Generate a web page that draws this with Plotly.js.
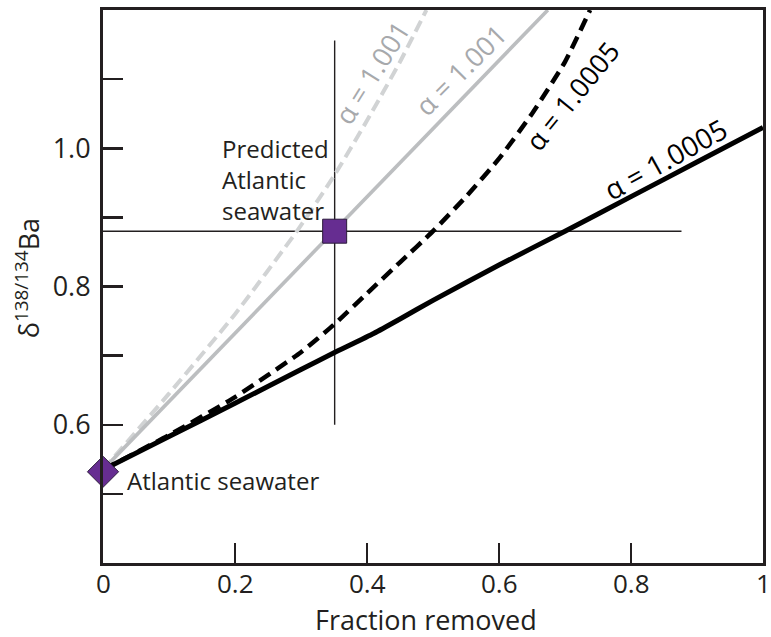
<!DOCTYPE html>
<html>
<head>
<meta charset="utf-8">
<script src="https://cdn.plot.ly/plotly-3.0.1.min.js"></script>
<style>html,body{margin:0;padding:0;background:#fff;}</style>
</head>
<body>
<div id="chart" style="width:771px;height:637px;"></div>
<script>
// Fraction removed (x) vs δ138/134Ba (y)
const blackSolidX = [0, 0.1, 0.2, 0.3, 0.35, 0.41, 0.45, 0.5, 0.6, 0.7, 0.8, 0.9, 1.0];
const blackSolidY = [0.535, 0.583, 0.631, 0.680, 0.704, 0.732, 0.753, 0.780, 0.831, 0.880, 0.930, 0.980, 1.030];

const blackDashX = [0, 0.1, 0.2, 0.3, 0.35, 0.4, 0.45, 0.5, 0.55, 0.6, 0.65, 0.7, 0.738];
const blackDashY = [0.535, 0.585, 0.640, 0.705, 0.745, 0.790, 0.835, 0.880, 0.930, 0.985, 1.050, 1.125, 1.200];

const graySolidX = [0, 0.2, 0.351, 0.5, 0.674];
const graySolidY = [0.535, 0.732, 0.880, 1.027, 1.200];

const grayDashX = [0, 0.1, 0.2, 0.296, 0.35, 0.4, 0.45, 0.49];
const grayDashY = [0.535, 0.645, 0.760, 0.883, 0.960, 1.040, 1.125, 1.200];

const atlanticX = [0];
const atlanticY = [0.532];
const predictedX = [0.351];
const predictedY = [0.880];
const predVLineX = [0.351, 0.351];
const predVLineY = [0.6, 1.156];
const predHLineX = [0, 0.8765];
const predHLineY = [0.880, 0.880];

const xTickVals = [0, 0.2, 0.4, 0.6, 0.8, 1];
const xTickText = ['0', '0.2', '0.4', '0.6', '0.8', '1'];
const yTickVals = [0.6, 0.8, 1.0];
const yTickText = ['0.6', '0.8', '1.0'];

const curveLabels = ['α = 1.001', 'α = 1.001', 'α = 1.0005', 'α = 1.0005'];

const FONT = 'Open Sans, Lato, sans-serif';
const INK = '#231f20';
const PURPLE = '#662d91';

const traces = [
  {x: predHLineX, y: predHLineY, mode: 'lines', line: {color: INK, width: 1.6}, hoverinfo: 'skip'},
  {x: predVLineX, y: predVLineY, mode: 'lines', line: {color: INK, width: 1.4}, hoverinfo: 'skip'},
  {x: grayDashX, y: grayDashY, mode: 'lines', line: {color: '#d1d3d4', width: 4, dash: '12px,6px', shape: 'spline', smoothing: 0.5}},
  {x: graySolidX, y: graySolidY, mode: 'lines', line: {color: '#bcbec0', width: 3.6}},
  {x: blackDashX, y: blackDashY, mode: 'lines', line: {color: '#000', width: 4.5, dash: '13px,7px', shape: 'spline', smoothing: 0.5}},
  {x: blackSolidX, y: blackSolidY, mode: 'lines', line: {color: '#000', width: 5, shape: 'spline', smoothing: 0.4}},
  {x: atlanticX, y: atlanticY, mode: 'markers', cliponaxis: false,
   marker: {symbol: 'diamond', size: 24, color: PURPLE, line: {color: '#2b1a3a', width: 1}}},
  {x: predictedX, y: predictedY, mode: 'markers', cliponaxis: false,
   marker: {symbol: 'square', size: 24, color: PURPLE, line: {color: '#2b1a3a', width: 1}}}
];

const annotations = [
  {xref: 'paper', yref: 'paper', x: -0.115, y: 0.515, text: 'δ<sup>138/134</sup>Ba',
   textangle: -90, showarrow: false, xanchor: 'center', yanchor: 'middle',
   font: {family: FONT, size: 27, color: INK}},
  {xref: 'paper', yref: 'paper', x: 0.49, y: 0, yshift: -56, text: 'Fraction removed',
   showarrow: false, xanchor: 'center', yanchor: 'middle',
   font: {family: FONT, size: 27, color: INK}},
  {x: 0.407, y: 1.110, text: curveLabels[0], textangle: -58, showarrow: false,
   font: {family: FONT, size: 27, color: '#a7a9ac'}},
  {x: 0.542, y: 1.114, text: curveLabels[1], textangle: -45, showarrow: false,
   font: {family: FONT, size: 27, color: '#a7a9ac'}},
  {x: 0.711, y: 1.076, text: curveLabels[2], textangle: -51, showarrow: false,
   font: {family: FONT, size: 27, color: '#000'}},
  {x: 0.852, y: 0.984, text: curveLabels[3], textangle: -29, showarrow: false,
   font: {family: FONT, size: 28, color: '#000'}},
  {x: 0.177, y: 0.955, text: 'Predicted<br>Atlantic<br>seawater', showarrow: false,
   xanchor: 'left', yanchor: 'middle', align: 'left',
   font: {family: FONT, size: 24, color: INK}},
  {x: 0.033, y: 0.519, text: 'Atlantic seawater', showarrow: false,
   xanchor: 'left', yanchor: 'middle',
   font: {family: FONT, size: 24, color: INK}}
];
xTickVals.forEach((v, i) => {
  annotations.push({x: v, xref: 'x', y: 0, yref: 'paper', yshift: -20, text: xTickText[i],
    showarrow: false, xanchor: 'center', yanchor: 'middle',
    font: {family: FONT, size: 26, color: INK}});
});

const layout = {
  width: 771, height: 637,
  margin: {l: 103, r: 8, t: 10, b: 74},
  paper_bgcolor: '#fff', plot_bgcolor: '#fff',
  showlegend: false,
  font: {family: FONT, color: INK},
  xaxis: {
    range: [0, 1], showgrid: false, zeroline: false,
    showline: true, mirror: true, linecolor: INK, linewidth: 3,
    ticks: 'inside', ticklen: 20, tickwidth: 2.5, tickcolor: INK,
    tickvals: [0.2, 0.4, 0.6, 0.8], showticklabels: false
  },
  yaxis: {
    range: [0.4, 1.2], showgrid: false, zeroline: false,
    showline: true, mirror: true, linecolor: INK, linewidth: 3,
    ticks: 'inside', ticklen: 20, tickwidth: 2.5, tickcolor: INK,
    tickvals: yTickVals, ticktext: yTickText,
    tickfont: {family: FONT, size: 27, color: INK},
    ticklabelstandoff: 4,
    minor: {ticks: 'inside', ticklen: 20, tickwidth: 2.5, tickcolor: INK, tick0: 0.5, dtick: 0.1}
  },
  annotations: annotations
};

Plotly.newPlot('chart', traces, layout, {displayModeBar: false, staticPlot: true});
</script>
</body>
</html>
